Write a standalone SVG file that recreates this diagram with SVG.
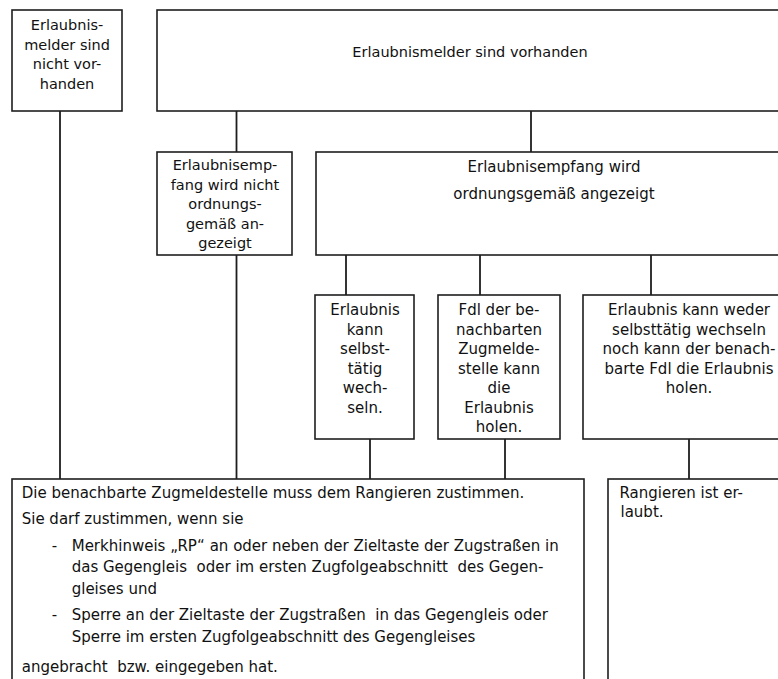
<svg xmlns="http://www.w3.org/2000/svg" width="778" height="679" viewBox="0 0 778 679">
<style>
.box{fill:#fff;stroke:#1e1e1e;stroke-width:1.6}
.ln{stroke:#1e1e1e;stroke-width:1.8;fill:none}
text{font-family:"DejaVu Sans",sans-serif;font-size:15px;fill:#111}
.s text{font-size:14.5px}
.c{text-anchor:middle}
.p{white-space:pre}
</style>
<rect width="778" height="679" fill="#fff"/>
<g id="connectors">
<line class="ln" x1="60" y1="111" x2="60" y2="479"/>
<line class="ln" x1="236.5" y1="111" x2="236.5" y2="152"/>
<line class="ln" x1="236.5" y1="255" x2="236.5" y2="479"/>
<line class="ln" x1="531" y1="111" x2="531" y2="152"/>
<line class="ln" x1="346" y1="255" x2="346" y2="295"/>
<line class="ln" x1="480" y1="255" x2="480" y2="295"/>
<line class="ln" x1="651" y1="255" x2="651" y2="295"/>
<line class="ln" x1="370" y1="439" x2="370" y2="479"/>
<line class="ln" x1="505" y1="439" x2="505" y2="479"/>
<line class="ln" x1="689" y1="439" x2="689" y2="479"/>
</g>
<g id="n1" class="s">
<rect class="box" x="12" y="10" width="110" height="101"/>
<text class="c" x="67" y="30">Erlaubnis-</text>
<text class="c" x="67" y="49.5">melder sind</text>
<text class="c" x="67" y="69">nicht vor-</text>
<text class="c" x="67" y="88.5">handen</text>
</g>
<g id="n2" class="s">
<rect class="box" x="157" y="10" width="640" height="101"/>
<text class="c" x="470" y="57">Erlaubnismelder sind vorhanden</text>
</g>
<g id="n3" class="s">
<rect class="box" x="157" y="152" width="135" height="103"/>
<text class="c" x="225" y="170">Erlaubnisemp-</text>
<text class="c" x="225" y="189.5">fang wird nicht</text>
<text class="c" x="225" y="209">ordnungs-</text>
<text class="c" x="225" y="228.5">gemäß an-</text>
<text class="c" x="225" y="248">gezeigt</text>
</g>
<g id="n4">
<rect class="box" x="316" y="152" width="480" height="103"/>
<text class="c" x="554" y="172">Erlaubnisempfang wird</text>
<text class="c" x="554" y="198.5">ordnungsgemäß angezeigt</text>
</g>
<g id="n5">
<rect class="box" x="315" y="295" width="99" height="144"/>
<text class="c" x="365" y="315">Erlaubnis</text>
<text class="c" x="365" y="334.5">kann</text>
<text class="c" x="365" y="354">selbst-</text>
<text class="c" x="365" y="373.5">tätig</text>
<text class="c" x="365" y="393">wech-</text>
<text class="c" x="365" y="412.5">seln.</text>
</g>
<g id="n6">
<rect class="box" x="438" y="295" width="122" height="144"/>
<text class="c" x="499" y="315">Fdl der be-</text>
<text class="c" x="499" y="334.5">nachbarten</text>
<text class="c" x="499" y="354">Zugmelde-</text>
<text class="c" x="499" y="373.5">stelle kann</text>
<text class="c" x="499" y="393">die</text>
<text class="c" x="499" y="412.5">Erlaubnis</text>
<text class="c" x="499" y="432">holen.</text>
</g>
<g id="n7">
<rect class="box" x="583" y="295" width="210" height="144"/>
<text class="c" x="689" y="315">Erlaubnis kann weder</text>
<text class="c" x="689" y="334.5">selbsttätig wechseln</text>
<text class="c" x="689" y="354">noch kann der benach-</text>
<text class="c" x="689" y="373.5">barte Fdl die Erlaubnis</text>
<text class="c" x="689" y="393">holen.</text>
</g>
<g id="n8">
<rect class="box" x="12" y="479" width="572" height="220"/>
<text x="21.7" y="498">Die benachbarte Zugmeldestelle muss dem Rangieren zustimmen.</text>
<text x="21.7" y="524">Sie darf zustimmen, wenn sie</text>
<text x="51.7" y="551">-</text>
<text x="71.7" y="551">Merkhinweis „RP“ an oder neben der Zieltaste der Zugstraßen in</text>
<text class="p" x="71.7" y="572">das Gegengleis  oder im ersten Zugfolgeabschnitt  des Gegen-</text>
<text x="71.7" y="593.5">gleises und</text>
<text x="51.7" y="620">-</text>
<text class="p" x="71.7" y="620">Sperre an der Zieltaste der Zugstraßen  in das Gegengleis oder</text>
<text x="71.7" y="641.7">Sperre im ersten Zugfolgeabschnitt des Gegengleises</text>
<text class="p" x="21.7" y="671.7">angebracht  bzw. eingegeben hat.</text>
</g>
<g id="n9">
<rect class="box" x="608" y="479" width="190" height="220"/>
<text x="619.5" y="498">Rangieren ist er-</text>
<text x="620.5" y="516.7">laubt.</text>
</g>
</svg>
